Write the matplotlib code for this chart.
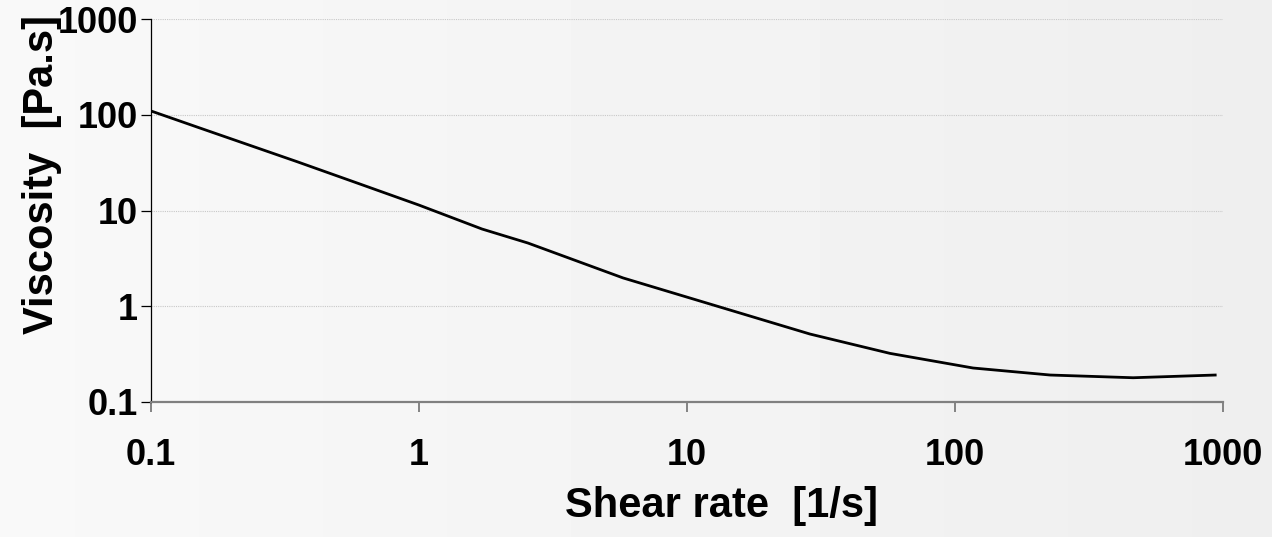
import numpy as np
import matplotlib
matplotlib.use("Agg")
import matplotlib.pyplot as plt
from matplotlib.ticker import FixedLocator, FixedFormatter, NullLocator

# Flow curve
shear_rate = [0.1, 0.15, 0.35, 0.6, 1.0, 1.72, 2.55, 5.78, 28.8, 57.3, 117, 227, 463, 937]
viscosity = [110, 74, 32.5, 19, 11.4, 6.4, 4.57, 1.97, 0.51, 0.32, 0.225, 0.19, 0.178, 0.19]

tick_values = [0.1, 1, 10, 100, 1000]
tick_labels = ["0.1", "1", "10", "100", "1000"]

plt.rcParams['font.family'] = ['Liberation Sans', 'DejaVu Sans']

fig = plt.figure(figsize=(12.72, 5.37), dpi=100)

# soft left-to-right gray gradient behind everything
bg = fig.add_axes([0, 0, 1, 1], zorder=-10)
grad = np.linspace(0.975, 0.935, 256).reshape(1, -1)
bg.imshow(grad, cmap='gray', vmin=0, vmax=1, aspect='auto', extent=[0, 1, 0, 1])
bg.set_axis_off()

ax = fig.add_axes([0.1187, 0.252, 0.8426, 0.712])
ax.patch.set_alpha(0)
ax.plot(shear_rate, viscosity, color='black', lw=2.0, solid_joinstyle='round')

ax.set_xscale('log')
ax.set_yscale('log')
ax.set_xlim(0.1, 1000)
ax.set_ylim(0.1, 1000)

for axis in (ax.xaxis, ax.yaxis):
    axis.set_major_locator(FixedLocator(tick_values))
    axis.set_major_formatter(FixedFormatter(tick_labels))
    axis.set_minor_locator(NullLocator())

ax.yaxis.grid(True, color='#c8c8c8', lw=0.8, ls=(0, (1, 1)))
ax.set_axisbelow(True)

for side in ('top', 'right'):
    ax.spines[side].set_visible(False)
ax.spines['left'].set_color('black')
ax.spines['left'].set_linewidth(0.9)
ax.spines['bottom'].set_color('#808080')
ax.spines['bottom'].set_linewidth(1.6)

ax.tick_params(axis='y', length=7.5, width=0.9, color='black', pad=2,
               labelsize=26)
ax.tick_params(axis='x', length=7.5, width=1.2, color='#707070', pad=19,
               labelsize=26)
for lbl in ax.get_xticklabels() + ax.get_yticklabels():
    lbl.set_fontweight('bold')

fig.text(0.567, 0.058, "Shear rate  [1/s]", ha='center', va='center',
         fontsize=30, fontweight='bold')
fig.text(0.033, 0.675, "Viscosity  [Pa.s]", ha='center', va='center',
         rotation=90, fontsize=30, fontweight='bold')

fig.savefig("out.png", dpi=100)
